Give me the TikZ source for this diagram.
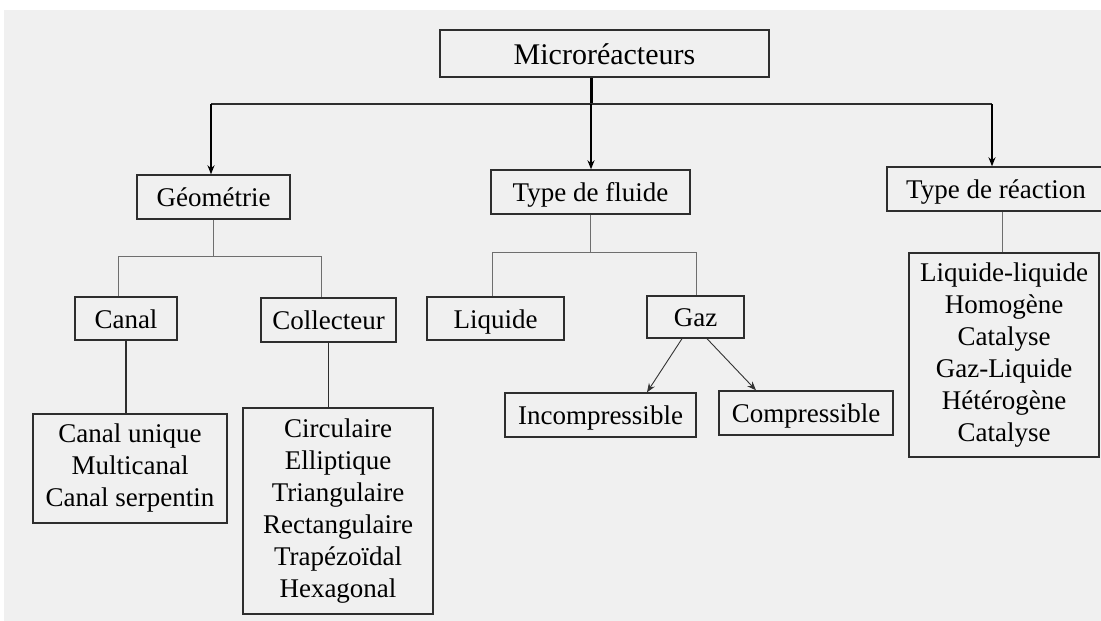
\documentclass[tikz,border=0pt]{standalone}
\usepackage{fontspec}
\setmainfont{Liberation Serif}
\usetikzlibrary{arrows.meta,calc}
\definecolor{paper}{HTML}{F0F0F0}
\definecolor{edge}{HTML}{2E2E2E}
\definecolor{thin}{HTML}{6E6E6E}
\tikzset{
  box/.style={draw=edge, line width=1.4pt, inner sep=0pt, align=center,
    font=\fontsize{27}{32}\selectfont},
  oneline/.style={box, text height=22pt, text depth=3pt},
  arr/.style={draw=black, line width=1.5pt, -{Stealth[length=9pt,width=7pt]}},
  smallarr/.style={draw=black!80, line width=0.9pt, -{Stealth[length=9pt,width=7pt]}},
  branch/.style={draw=thin, line width=1pt},
  stem/.style={draw=edge, line width=1.3pt},
}
\begin{document}
\begin{tikzpicture}[x=1pt,y=-1pt]
\useasboundingbox (0,0) rectangle (1101,621);
\clip (0,0) rectangle (1101,621);
\fill[white] (0,0) rectangle (1101,621);
\fill[paper] (4,10) rectangle (1101,621);

% top level
\node[box, minimum width=329pt, minimum height=47pt, text height=24pt, text depth=3pt,
  font=\fontsize{30}{34}\selectfont] (micro) at (604.5,53.5) {Microréacteurs};

% second level
\node[oneline, minimum width=153pt, minimum height=44pt] (geo) at (213.5,197) {Géométrie};
\node[oneline, minimum width=199pt, minimum height=44pt] (fluide) at (590.5,192) {Type de fluide};
\node[oneline, minimum width=218pt, minimum height=44pt] (reaction) at (996,189) {Type de réaction};

% geometry branch
\node[oneline, minimum width=102pt, minimum height=43pt] (canal) at (126,318.5) {Canal};
\node[oneline, minimum width=135pt, minimum height=44pt] (collecteur) at (328.5,320) {Collecteur};
\node[box, minimum width=194pt, minimum height=109pt] (canallist) at (130,468.5)
  {Canal unique\\Multicanal\\Canal serpentin};
\node[box, minimum width=190pt, minimum height=206pt] (collist) at (338,511)
  {Circulaire\\Elliptique\\Triangulaire\\Rectangulaire\\Trapézoïdal\\Hexagonal};

% fluid branch
\node[oneline, minimum width=137pt, minimum height=43pt] (liquide) at (495.5,318.5) {Liquide};
\node[oneline, minimum width=97pt, minimum height=42pt] (gaz) at (695.5,317) {Gaz};
\node[oneline, minimum width=191pt, minimum height=44pt] (incomp) at (600.5,415) {Incompressible};
\node[oneline, minimum width=174pt, minimum height=44pt] (comp) at (806,413) {Compressible};

% reaction branch
\node[box, minimum width=190pt, minimum height=204pt] (reactlist) at (1004,355)
  {Liquide-liquide\\Homogène\\Catalyse\\Gaz-Liquide\\Hétérogène\\Catalyse};

% main distribution bus
\coordinate (hub) at (591,104);
\coordinate (busL) at (211,104);
\coordinate (busR) at (992,104);
\draw[draw=black, line width=3pt] (micro.south -| hub) -- (hub);
\draw[stem] (busL) -- (busR);
\draw[arr] (busL) -- (busL |- geo.north);
\draw[arr] (hub) -- (fluide.north -| hub);
\draw[arr] (busR) -- (busR |- reaction.north);

% geometry sub-tree
\coordinate (gL) at (118,256);
\coordinate (gR) at (321,256);
\draw[branch] (geo.south) -- (geo.south |- gL);
\draw[branch] (gL |- canal.north) -- (gL) -- (gR) -- (gR |- collecteur.north);
\draw[stem] (canal.south) -- (canal.south |- canallist.north);
\draw[stem] (collecteur.south) -- (collecteur.south |- collist.north);

% fluid sub-tree
\coordinate (fL) at (492,252);
\coordinate (fR) at (696,252);
\draw[branch] (fluide.south) -- (fluide.south |- fL);
\draw[branch] (fL |- liquide.north) -- (fL) -- (fR) -- (fR |- gaz.north);
\draw[smallarr] ($(gaz.south)+(-13.5,0)$) -- ($(incomp.north)+(46.5,0)$);
\draw[smallarr] ($(gaz.south)+(11.5,0)$) -- ($(comp.north)+(-50,0)$);

% reaction sub-tree
\draw[branch] (reactlist.north -| 1002,0) -- (reaction.south -| 1002,0);
\end{tikzpicture}
\end{document}
